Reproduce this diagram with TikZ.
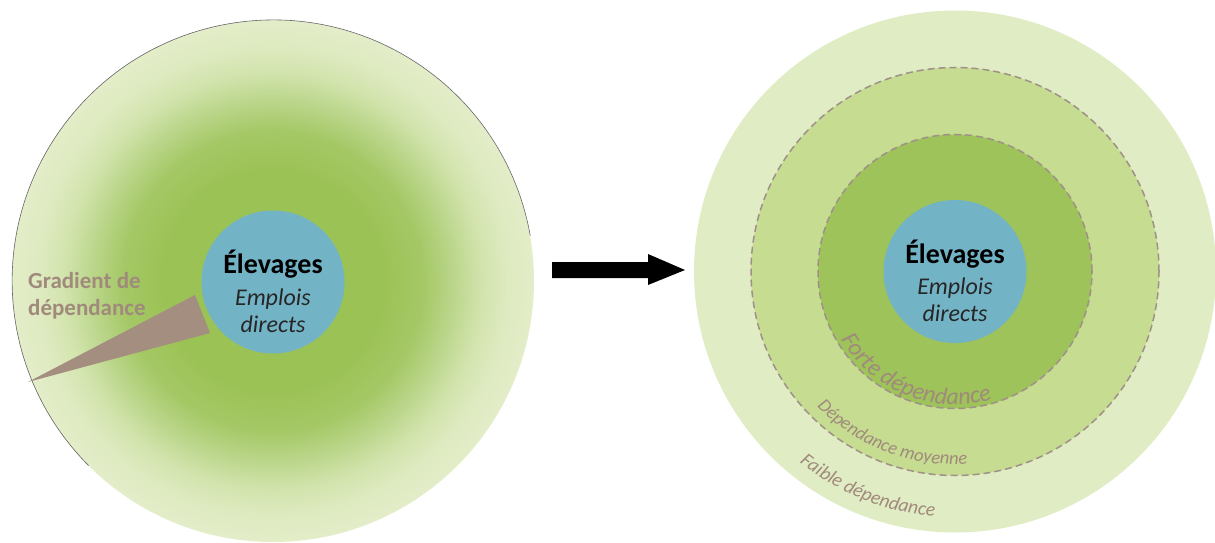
\documentclass[tikz,border=0pt]{standalone}
\usepackage{fontspec}
\setmainfont{Carlito}
\usetikzlibrary{decorations.text}
\definecolor{blueC}{HTML}{73B3C6}
\definecolor{gDark}{HTML}{9DC35A}
\definecolor{gMid}{HTML}{C5DC91}
\definecolor{gLight}{HTML}{E0ECC3}
\definecolor{brownT}{HTML}{A08A7C}
\definecolor{dashC}{HTML}{A0908A}
\definecolor{wedgeC}{HTML}{A38E80}
\definecolor{txtG}{HTML}{262626}
\definecolor{sg1}{HTML}{9BC255}
\definecolor{sg2}{HTML}{A5C866}
\definecolor{sg3}{HTML}{BED890}
\definecolor{sg4}{HTML}{D3E4AE}
\definecolor{sg5}{HTML}{DEEAC0}
\definecolor{sg6}{HTML}{E3EDC9}
\pgfdeclareradialshading{glow}{\pgfpoint{0bp}{0bp}}{color(0bp)=(sg1); color(10.5bp)=(sg1); color(14.4bp)=(sg2); color(17.7bp)=(sg3); color(20.1bp)=(sg4); color(22.5bp)=(sg5); color(25bp)=(sg6); color(50bp)=(sg6)}
\begin{document}
\begin{tikzpicture}[x=1pt,y=1pt,
  blob/.style={circle, fill=blueC, minimum size=143, inner sep=0pt},
  ring/.style={circle, inner sep=0pt, draw=dashC, line width=1.5pt, dash pattern=on 7pt off 4pt},
  titleT/.style={anchor=base, inner sep=0pt, font=\bfseries\fontsize{28}{28}\selectfont, text=black},
  subT/.style={anchor=base, inner sep=0pt, font=\itshape\fontsize{24}{24}\selectfont, text=txtG},
  gradT/.style={anchor=base west, inner sep=0pt, font=\bfseries\fontsize{23}{23}\selectfont, text=brownT},
  arcT/.style={decorate, decoration={text along path, text align=center, text color=brownT, text={#1}}}
]
\useasboundingbox (0,0) rectangle (1215,542);
% ---------- left diagram ----------
\node[circle, minimum size=522, inner sep=0pt, shading=glow] (L) at (273,261) {};
\draw[black!60, line width=0.6pt] (L.10) arc[start angle=10, end angle=225, radius=261];
\fill[wedgeC] (28,160) -- (195,247) -- (210,209) -- cycle;
\node[blob] (B1) at (273,260) {};
\node[titleT] (e1) at (273,269) {Élevages};
\node[subT] (s1) at (273,237) {Emplois};
\node[subT] (d1) at (273,210) {directs};
\node[gradT] (g1) at (28,254) {Gradient de};
\node[gradT] (g2) at (28,227) {dépendance};
% ---------- arrow ----------
\fill[black] (552,264) -- (648,264) -- (648,257) -- (685,272) -- (648,288) -- (648,280) -- (552,280) -- cycle;
% ---------- right diagram ----------
\node[circle, fill=gLight, minimum size=522, inner sep=0pt] (R3) at (955,270.5) {};
\node[ring, fill=gMid, minimum size=408] (R2) at (955,270.5) {};
\node[ring, fill=gDark, minimum size=274] (R1) at (955,270.5) {};
\node[blob] (B2) at (955,270.5) {};
\node[titleT] (e2) at (955,279) {Élevages};
\node[subT] (s2) at (955,248) {Emplois};
\node[subT] (d2) at (955,221) {directs};
\path[arcT={|\itshape\fontsize{24}{24}\selectfont|Forte dépendance}]
  ([shift={(188.5:133)}]R1.center) arc[start angle=188.5, end angle=308.5, radius=133];
\path[arcT={|\itshape\fontsize{18.5}{18.5}\selectfont|Dépendance moyenne}]
  ([shift={(189:193)}]R1.center) arc[start angle=189, end angle=309, radius=193];
\path[arcT={|\itshape\fontsize{19.5}{19.5}\selectfont|Faible dépendance}]
  ([shift={(188:246)}]R1.center) arc[start angle=188, end angle=308, radius=246];
\end{tikzpicture}
\end{document}
